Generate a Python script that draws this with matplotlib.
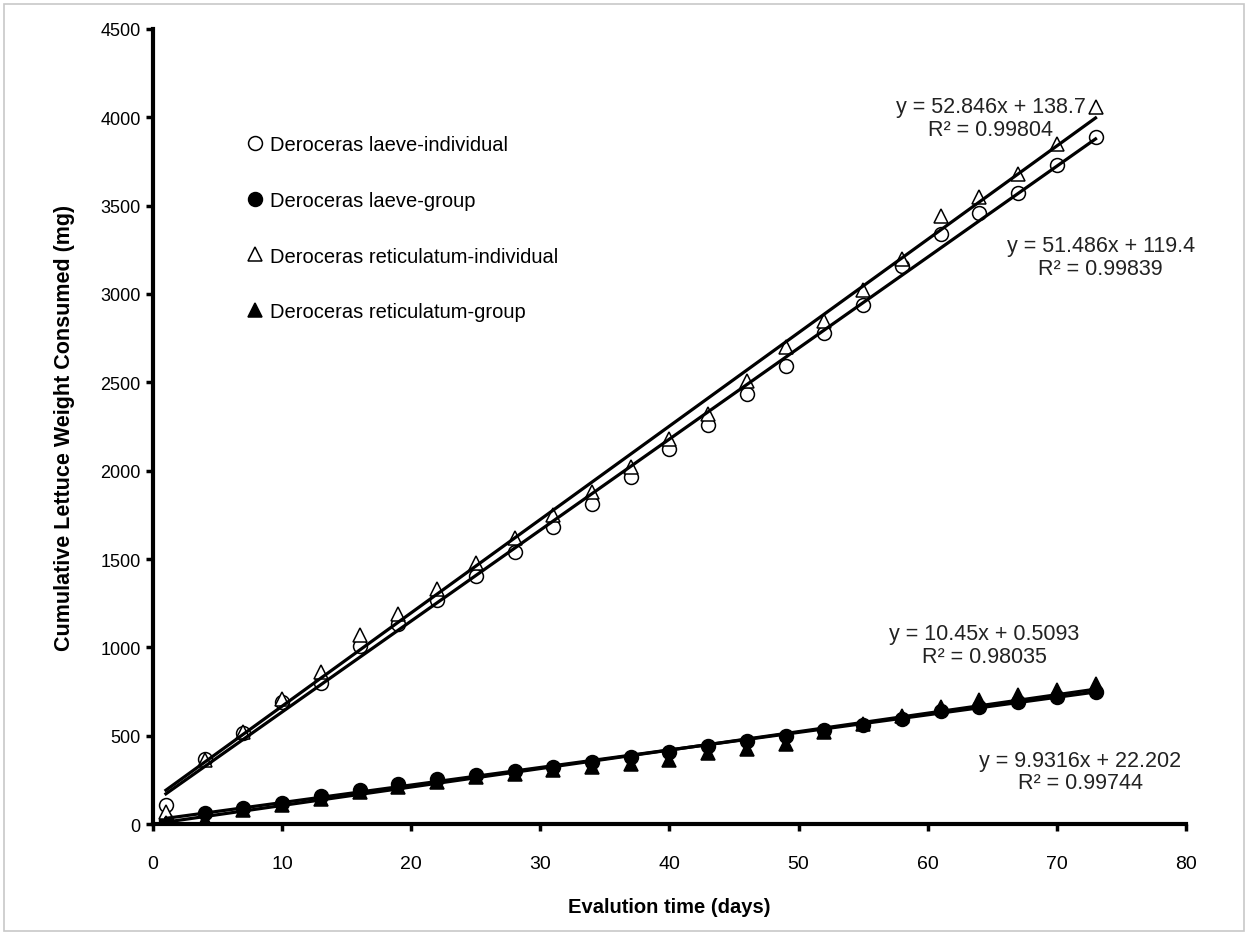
import numpy as np
import matplotlib.pyplot as plt
from matplotlib.patches import Rectangle

plt.rcParams['font.family'] = ['Liberation Sans', 'DejaVu Sans']

''' 数据 '''
days = [1, 4, 7, 10, 13, 16, 19, 22, 25, 28, 31, 34, 37, 40, 43, 46, 49, 52, 55, 58, 61, 64, 67, 70, 73]

laeve_ind = [110, 370, 515, 690, 800, 1005, 1130, 1270, 1405, 1540, 1680, 1810, 1965,
             2125, 2260, 2435, 2595, 2780, 2940, 3160, 3340, 3460, 3570, 3730, 3890]
laeve_grp = [20, 60, 90, 120, 160, 190, 225, 255, 275, 300, 325, 350, 380,
             410, 440, 470, 500, 530, 560, 595, 640, 665, 690, 720, 750]
retic_ind = [70, 360, 520, 710, 860, 1070, 1190, 1330, 1480, 1620, 1750, 1880, 2020,
             2180, 2320, 2510, 2700, 2850, 3020, 3200, 3440, 3550, 3680, 3850, 4060]
retic_grp = [5, 20, 80, 110, 140, 180, 210, 240, 265, 285, 305, 320, 340,
             360, 400, 425, 455, 520, 565, 610, 665, 700, 730, 760, 790]

labels = ['Deroceras laeve-individual', 'Deroceras laeve-group',
          'Deroceras reticulatum-individual', 'Deroceras reticulatum-group']

# 趋势线 y = a*x + b
slopes = [51.486, 9.9316, 52.846, 10.45]
intercepts = [119.4, 22.202, 138.7, 0.5093]
r2 = ['0.99839', '0.99744', '0.99804', '0.98035']
eq_pos = [(73.4, 3210), (71.8, 298), (64.9, 3995), (64.4, 1012)]

fig = plt.figure(figsize=(12.49, 9.37), dpi=100)
# 外框
fig.patches.append(Rectangle((0.003, 0.005), 0.993, 0.99, transform=fig.transFigure,
                             fill=False, edgecolor='#c8c8c8', linewidth=1.2))
ax = fig.add_axes([0.1225, 0.1195, 0.827, 0.8485])

series = [laeve_ind, laeve_grp, retic_ind, retic_grp]
markers = ['o', 'o', '^', '^']
faces = ['white', 'black', 'white', 'black']
for ys, m, fc, lab in zip(series, markers, faces, labels):
    ax.plot(days, ys, linestyle='none', marker=m, markersize=10, markerfacecolor=fc,
            markeredgecolor='black', markeredgewidth=1.1, label=lab, zorder=2)

x = np.array([days[0], days[-1]])
for a, b in zip(slopes, intercepts):
    ax.plot(x, a * x + b, color='black', linewidth=2.3, zorder=3)

for (px, py), a, b, r in zip(eq_pos, slopes, intercepts, r2):
    ax.text(px, py, 'y = %gx + %g\nR² = %s' % (a, b, r), ha='center', va='center',
            fontsize=15.5, linespacing=1.1, color='#222222')

ax.set_xlim(0, 80)
ax.set_ylim(0, 4500)
ax.set_xticks(np.arange(0, 81, 10))
ax.set_yticks(np.arange(0, 4501, 500))
for s in ['top', 'right']:
    ax.spines[s].set_visible(False)
for s in ['left', 'bottom']:
    ax.spines[s].set_linewidth(3)
ax.tick_params(direction='out', length=5, width=2.5, labelsize=14)
ax.tick_params(axis='x', pad=17)
ax.tick_params(axis='y', pad=4)
for t in ax.get_yticklabels():
    t.set_fontsize(13)

ax.set_xlabel('Evalution time (days)', fontsize=14.5, fontweight='bold', labelpad=18)
ax.set_ylabel('Cumulative Lettuce Weight Consumed (mg)', fontsize=15.5, fontweight='bold', labelpad=18)

ax.legend(loc='upper left', bbox_to_anchor=(0.083, 0.877), frameon=False, fontsize=14.5,
          handlelength=0.8, handletextpad=0.35, labelspacing=1.83, borderaxespad=0)

plt.savefig('out.png', dpi=100)
